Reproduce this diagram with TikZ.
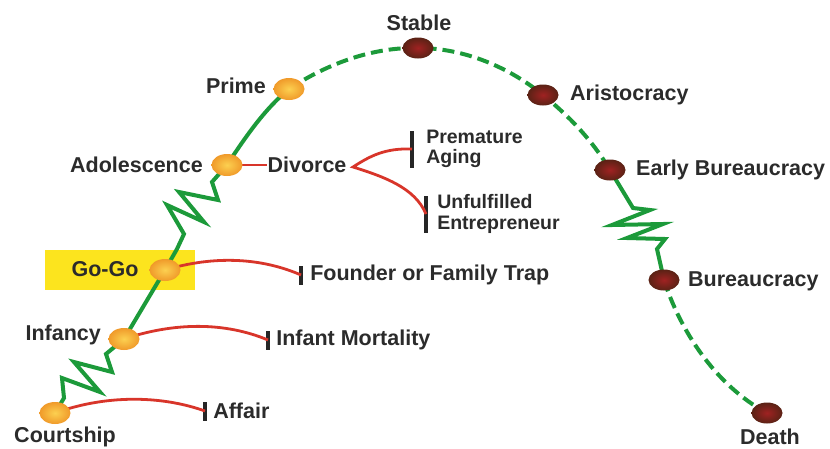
\documentclass[tikz,border=0pt]{standalone}
\usepackage{fontspec}
\setmainfont{Liberation Sans}
\usetikzlibrary{shapes.geometric}
\definecolor{lgreen}{HTML}{1C9A3A}
\definecolor{rred}{HTML}{D8352A}
\definecolor{txt}{HTML}{2B2B2B}
\definecolor{hilite}{HTML}{FCE41E}
\definecolor{orgout}{HTML}{F09A2A}
\definecolor{orgin}{HTML}{FCD050}
\definecolor{brnout}{HTML}{5A2215}
\definecolor{brnin}{HTML}{A02222}
\begin{document}
\begin{tikzpicture}[x=1pt,y=-1pt,
  lbl/.style={font=\bfseries\fontsize{21.5}{22}\selectfont, text=txt, inner sep=0pt, align=left},
  lifeline/.style={draw=lgreen, line width=4pt, line join=miter},
  dashline/.style={lifeline, dash pattern=on 12pt off 6pt},
  risk/.style={draw=rred, line width=2.8pt},
  growdot/.style={ellipse, minimum width=31pt, minimum height=22pt, inner sep=0pt, inner color=orgin, outer color=orgout},
  agedot/.style={ellipse, minimum width=31pt, minimum height=21pt, inner sep=0pt, inner color=brnin, outer color=brnout},
  barnode/.style={rectangle, fill=black!85, minimum width=3.8pt, inner sep=0pt}]
\useasboundingbox (0,0) rectangle (830,448);

% highlight behind Go-Go
\fill[hilite] (45,250) rectangle (195,290);

% stage positions
\coordinate (court) at (55,413);
\coordinate (inf) at (124,339);
\coordinate (gogo) at (165,270);
\coordinate (adol) at (227,165);
\coordinate (prime) at (289,89);
\coordinate (stable) at (418,48);
\coordinate (arist) at (543,95);
\coordinate (early) at (610,170);
\coordinate (bur) at (664,280);
\coordinate (death) at (767,413);

% trap bars
\node[barnode, minimum height=19pt] (affbar) at (205,411) {};
\node[barnode, minimum height=19pt] (mortbar) at (268,340) {};
\node[barnode, minimum height=19pt] (trapbar) at (301,275) {};
\node[barnode, minimum height=37pt] (agebar) at (412,149) {};
\node[barnode, minimum height=37pt] (entbar) at (426,214) {};

% growing side of the lifecycle
\draw[lifeline] (court) -- (64,398) -- (62,378) -- (100,392) -- (74,362)
  -- (112,372) -- (106,354) -- (inf) -- (gogo) -- (177,249) -- (184,234)
  -- (167,205) -- (204,222) -- (179,192) -- (218,200) -- (212,182)
  -- (adol) .. controls (248,133) and (266,108) .. (prime);
% top of the curve
\draw[dashline] (prime) .. controls (330,62) and (375,47) .. (stable)
  .. controls (465,48) and (510,68) .. (arist)
  .. controls (570,117) and (592,140) .. (early);
% aging side
\draw[lifeline] (early) -- (633,208) -- (650,210) -- (612,225) -- (663,224)
  -- (627,238) -- (665,239) -- (657,249) -- (bur);
\draw[dashline] (bur) .. controls (680,330) and (715,385) .. (death);

% traps
\draw[risk] (court) .. controls (105,395) and (160,395) .. (affbar.center);
\draw[risk] (inf) .. controls (175,322) and (225,322) .. (mortbar.center);
\draw[risk] (gogo) .. controls (215,255) and (262,258) .. (trapbar.center);
\node[lbl] (divorce) at (307,165) {Divorce};
\draw[risk] (adol) -- (divorce.west);
\coordinate (fork) at (353,167);
\draw[risk] (agebar.center) .. controls (385,148) and (370,156) .. (fork)
  .. controls (385,177) and (415,188) .. (entbar.center);

% stage dots
\node[growdot] (court-dot) at (court) {};
\node[growdot] (inf-dot) at (inf) {};
\node[growdot] (gogo-dot) at (gogo) {};
\node[growdot] (adol-dot) at (adol) {};
\node[growdot] (prime-dot) at (prime) {};
\node[agedot] (stable-dot) at (stable) {};
\node[agedot] (arist-dot) at (arist) {};
\node[agedot] (early-dot) at (early) {};
\node[agedot] (bur-dot) at (bur) {};
\node[agedot] (death-dot) at (death) {};

% stage labels
\node[lbl] (court-l) at (65,437) {Courtship};
\node[lbl, anchor=east] (inf-l) at (101,335) {Infancy};
\node[lbl] (gogo-l) at (105,269) {Go-Go};
\node[lbl, anchor=east] (adol-l) at (203,165) {Adolescence};
\node[lbl, anchor=east] (prime-l) at (266,86) {Prime};
\node[lbl] (stable-l) at (419,23) {Stable};
\node[lbl, anchor=west] (arist-l) at (570,95) {Aristocracy};
\node[lbl, anchor=west] (early-l) at (636,170) {Early Bureaucracy};
\node[lbl, anchor=west] (bur-l) at (688,281) {Bureaucracy};
\node[lbl] (death-l) at (770,437) {Death};

% trap labels
\node[lbl, anchor=west] (aff-l) at ([xshift=6pt]affbar.east) {Affair};
\node[lbl, anchor=west] (mort-l) at ([xshift=6pt]mortbar.east) {Infant Mortality};
\node[lbl, anchor=west] (trap-l) at ([xshift=7pt]trapbar.east) {Founder or Family Trap};
\node[lbl, anchor=west, font=\bfseries\fontsize{19.5}{20}\selectfont] (age-l) at ([xshift=12pt]agebar.east) {Premature\\Aging};
\node[lbl, anchor=west, font=\bfseries\fontsize{19.5}{21}\selectfont] (ent-l) at ([xshift=9pt]entbar.east) {Unfulfilled\\Entrepreneur};
\end{tikzpicture}
\end{document}
